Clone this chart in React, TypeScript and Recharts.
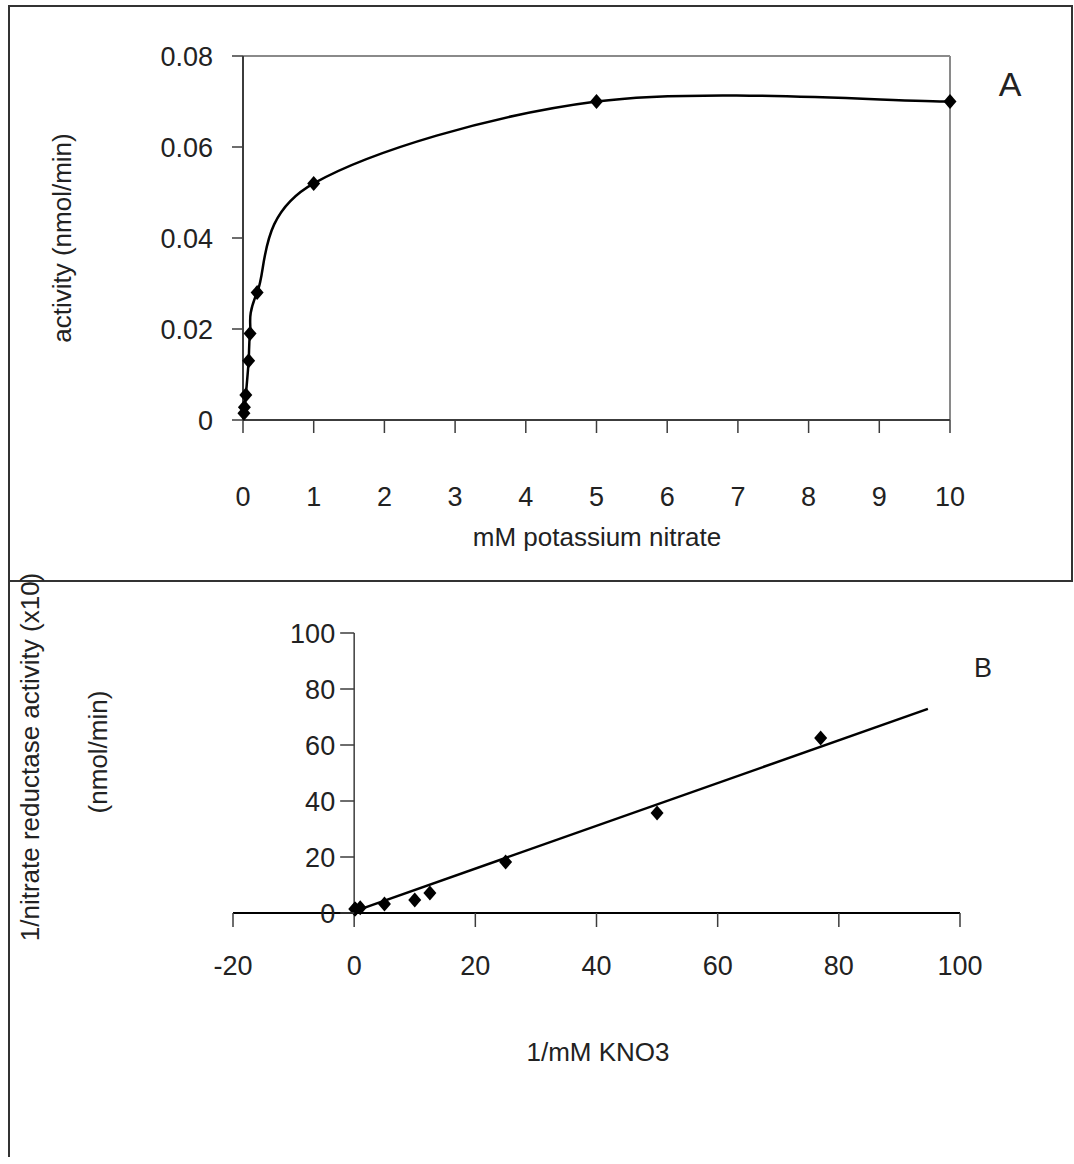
import React from 'react'
import { ComposedChart, Line, Scatter, XAxis, YAxis, ReferenceLine } from 'recharts'

// panel A: activity vs substrate concentration
const nitrateMM = [0.013, 0.02, 0.04, 0.08, 0.1, 0.2, 1, 5, 10]
const activity = [0.0015, 0.0028, 0.0055, 0.013, 0.019, 0.028, 0.052, 0.07, 0.07]
const xTicksA = [0, 1, 2, 3, 4, 5, 6, 7, 8, 9, 10]
const yTicksA = [0, 0.02, 0.04, 0.06, 0.08]

// panel B: double-reciprocal plot
const invNitrate = [0.1, 0.2, 1, 5, 10, 12.5, 25, 50, 77]
const invActivity = [1.4, 1.4, 1.9, 3.2, 4.6, 7.1, 18.2, 35.7, 62.5]
const trendX = [0, 94.7]
const trendY = [0.6, 72.9]
const xTicksB = [-20, 0, 20, 40, 60, 80, 100]
const yTicksB = [0, 20, 40, 60, 80, 100]

const dataA = nitrateMM.map((x, i) => ({ x, y: activity[i] }))
const dataB = invNitrate.map((x, i) => ({ x, y: invActivity[i] }))
const trend = trendX.map((x, i) => ({ x, y: trendY[i] }))

const INK = '#222'
const AXIS = '#3c3c3c'
const BOX = '#8a8a8a'
const TICK_FONT = 27

// Excel-style smoothed line (Catmull-Rom segments as cubic beziers)
const smoothCurve = (context: any) => {
  let pts: [number, number][] = []
  return {
    areaStart() {},
    areaEnd() {},
    lineStart() {
      pts = []
    },
    point(x: number, y: number) {
      pts.push([+x, +y])
    },
    lineEnd() {
      const n = pts.length
      if (!n) return
      context.moveTo(pts[0][0], pts[0][1])
      for (let i = 0; i < n - 1; i++) {
        const p0 = pts[Math.max(i - 1, 0)]
        const p1 = pts[i]
        const p2 = pts[i + 1]
        const p3 = pts[Math.min(i + 2, n - 1)]
        context.bezierCurveTo(
          p1[0] + (p2[0] - p0[0]) / 6,
          p1[1] + (p2[1] - p0[1]) / 6,
          p2[0] - (p3[0] - p1[0]) / 6,
          p2[1] - (p3[1] - p1[1]) / 6,
          p2[0],
          p2[1],
        )
      }
    },
  }
}

const diamond = (cx: number, cy: number, r = 7.5) =>
  `M${cx},${cy - r}L${cx + r - 1},${cy}L${cx},${cy + r}L${cx - r + 1},${cy}Z`

function DiamondDot(props: any) {
  const { cx, cy } = props
  if (cx == null || cy == null) return null
  return <path d={diamond(cx, cy)} fill="#000" />
}

// panel B geometry: the y axis crosses at x = 0, not at the plot's left edge
const B_LEFT = 233
const B_RIGHT = 960
const B_ZERO = B_LEFT + ((0 - xTicksB[0]) / (xTicksB[xTicksB.length - 1] - xTicksB[0])) * (B_RIGHT - B_LEFT)

function CrossingYTick(props: any) {
  const { y, payload } = props
  return (
    <g>
      <line x1={B_ZERO - 14} x2={B_ZERO} y1={y} y2={y} stroke={AXIS} strokeWidth={1.5} />
      <text x={B_ZERO - 19} y={y} dy="0.355em" textAnchor="end" fill={INK} fontSize={TICK_FONT}>
        {payload.value}
      </text>
    </g>
  )
}

function Title({ x, y, size = 26, rotate = false, children }: any) {
  return (
    <div
      style={{
        position: 'absolute',
        left: x,
        top: y,
        transform: `translate(-50%, -50%)${rotate ? ' rotate(-90deg)' : ''}`,
        whiteSpace: 'nowrap',
        fontSize: size,
        color: INK,
        lineHeight: 1,
      }}
    >
      {children}
    </div>
  )
}

export default function App() {
  return (
    <div
      style={{
        position: 'absolute',
        left: 0,
        top: 0,
        width: 1074,
        height: 1164,
        background: '#fff',
        fontFamily: "'Liberation Sans', Arial, sans-serif",
      }}
    >
      {/* frames */}
      <div style={{ position: 'absolute', left: 8, top: 5, width: 1061, height: 573, border: '2px solid #333' }} />
      <div style={{ position: 'absolute', left: 8, top: 579, width: 2, height: 578, background: '#333' }} />

      <div style={{ position: 'absolute', left: 0, top: 0 }}>
        <ComposedChart width={1074} height={580} margin={{ top: 56, right: 124, bottom: 100, left: 143 }}>
          <XAxis
            type="number"
            dataKey="x"
            domain={[0, 10]}
            ticks={xTicksA}
            interval={0}
            height={60}
            tickSize={13}
            tickMargin={54}
            axisLine={{ stroke: AXIS, strokeWidth: 2 }}
            tickLine={{ stroke: AXIS, strokeWidth: 1.5 }}
            tick={{ fill: INK, fontSize: TICK_FONT }}
          />
          <YAxis
            type="number"
            dataKey="y"
            domain={[0, 0.08]}
            ticks={yTicksA}
            interval={0}
            width={100}
            tickSize={11}
            tickMargin={19}
            axisLine={{ stroke: AXIS, strokeWidth: 2 }}
            tickLine={{ stroke: AXIS, strokeWidth: 1.5 }}
            tick={{ fill: INK, fontSize: TICK_FONT }}
          />
          <ReferenceLine y={0.08} stroke={BOX} strokeWidth={2} />
          <ReferenceLine x={10} stroke={BOX} strokeWidth={2} />
          <Line
            data={dataA}
            dataKey="y"
            type={smoothCurve as any}
            stroke="#000"
            strokeWidth={2.5}
            dot={<DiamondDot />}
            activeDot={false}
            isAnimationActive={false}
          />
        </ComposedChart>
      </div>

      <div style={{ position: 'absolute', left: 0, top: 580 }}>
        <ComposedChart width={1074} height={584} margin={{ top: 53, right: 1074 - B_RIGHT, bottom: 191, left: B_LEFT - 100 }}>
          <XAxis
            type="number"
            dataKey="x"
            domain={[-20, 100]}
            ticks={xTicksB}
            interval={0}
            height={60}
            tickSize={14}
            tickMargin={29}
            axisLine={{ stroke: '#000', strokeWidth: 2 }}
            tickLine={{ stroke: AXIS, strokeWidth: 1.5 }}
            tick={{ fill: INK, fontSize: TICK_FONT }}
          />
          <YAxis
            type="number"
            dataKey="y"
            domain={[0, 100]}
            ticks={yTicksB}
            interval={0}
            width={100}
            axisLine={false}
            tickLine={false}
            tick={<CrossingYTick />}
          />
          <ReferenceLine x={0} stroke={AXIS} strokeWidth={1.5} />
          <Line
            data={trend}
            dataKey="y"
            type="linear"
            stroke="#000"
            strokeWidth={2.5}
            dot={false}
            activeDot={false}
            isAnimationActive={false}
          />
          <Scatter data={dataB} dataKey="y" fill="#000" shape={<DiamondDot />} isAnimationActive={false} />
        </ComposedChart>
      </div>

      <Title x={62} y={238} rotate>activity (nmol/min)</Title>
      <Title x={597} y={537}>mM potassium nitrate</Title>
      <Title x={1010} y={84} size={34}>A</Title>

      <Title x={30} y={757} rotate>1/nitrate reductase activity (x10)</Title>
      <Title x={98} y={752} rotate>(nmol/min)</Title>
      <Title x={598} y={1052}>1/mM KNO3</Title>
      <Title x={983} y={668} size={27}>B</Title>
    </div>
  )
}
